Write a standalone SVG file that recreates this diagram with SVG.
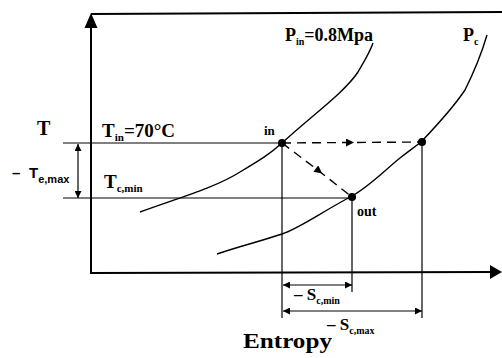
<svg xmlns="http://www.w3.org/2000/svg" width="502" height="358" viewBox="0 0 502 358">
<style>
.ax{stroke:#000;stroke-width:2;fill:none}
.ln{stroke:#000;stroke-width:1.2;fill:none}
.cv{stroke:#000;stroke-width:1.4;fill:none}
.ds{stroke:#000;stroke-width:1.4;fill:none;stroke-dasharray:9,6}
</style>
<defs>
<marker id="ah" viewBox="0 0 10 10" refX="10" refY="5" markerWidth="8" markerHeight="7" markerUnits="userSpaceOnUse" orient="auto-start-reverse"><path d="M0,0L10,5L0,10z" fill="#000"/></marker>
<marker id="mid" viewBox="0 0 10 10" refX="5" refY="5" markerWidth="9" markerHeight="8" markerUnits="userSpaceOnUse" orient="auto"><path d="M0,0L10,5L0,10z" fill="#000"/></marker>
</defs>
<g id="axes">
<line class="ax" x1="91" y1="14" x2="502" y2="12"/>
<line class="ax" x1="91" y1="24" x2="91" y2="273"/>
<path d="M91,13L84.5,28L97.5,28z" fill="#000" stroke="none"/>
<line class="ax" x1="90" y1="273" x2="491" y2="272"/>
<path d="M502,272L490,265L490,279z" fill="#000"/>
</g>
<g id="curves">
<path class="cv" d="M140,212 C175,199 215,188 240,172 C260,160 270,154 282,143 C310,117 345,92 358,72 C365,60 370,52 373,43"/>
<path class="cv" d="M217,254 C240,246 265,240 282,234 C300,228 320,213 352,196 C370,186 385,170 400,158 C410,150 415,147 422,141 C440,122 455,105 465,90 C475,70 482,52 487,35"/>
</g>
<g id="connectors">
<line class="ln" x1="63" y1="143" x2="282" y2="143"/>
<line class="ln" x1="63" y1="198" x2="352" y2="198"/>
<line class="ln" x1="282" y1="143" x2="282" y2="318"/>
<line class="ln" x1="352" y1="197" x2="352" y2="292"/>
<line class="ln" x1="422" y1="142" x2="422" y2="318"/>
<line class="ln" x1="78" y1="144" x2="78" y2="198" marker-start="url(#ah)" marker-end="url(#ah)"/>
<line class="ln" x1="283" y1="285" x2="352" y2="285" marker-start="url(#ah)" marker-end="url(#ah)"/>
<line class="ln" x1="283" y1="311" x2="422" y2="311" marker-start="url(#ah)" marker-end="url(#ah)"/>
<polyline class="ds" points="282,143 350,142.5 422,142" marker-mid="url(#mid)"/>
<polyline class="ds" points="282,143 319,171 352,197" marker-mid="url(#mid)"/>
</g>
<g font-family="'Liberation Serif', 'Times New Roman', serif" font-weight="bold" fill="#000">
<g id="in"><circle cx="282" cy="143" r="4"/><text x="264" y="135" font-size="13">in</text></g>
<g id="out"><circle cx="352" cy="197" r="4"/><text x="357" y="216" font-size="14">out</text></g>
<g id="pc-point"><circle cx="422" cy="142" r="4"/></g>
<g id="labels">
<text x="37" y="135" font-size="20">T</text>
<text x="102" y="137" font-size="19">T<tspan font-size="11" dy="4">in</tspan><tspan dy="-4">=70°C</tspan></text>
<text x="104" y="188" font-size="19">T<tspan font-size="11" dy="4">c,min</tspan></text>
<text font-family="'Liberation Sans', Arial, sans-serif" y="178" font-size="15"><tspan x="12">–</tspan><tspan x="29">T</tspan><tspan font-size="11" dy="5">e,max</tspan></text>
<text x="285" y="41" font-size="18">P<tspan font-size="10" dy="4">in</tspan><tspan dy="-4">=0.8Mpa</tspan></text>
<text x="463" y="41" font-size="18">P<tspan font-size="10" dy="4">c</tspan></text>
<text x="294" y="300" font-size="17">– S<tspan font-size="10" dy="4">c,min</tspan></text>
<text x="327" y="330" font-size="17">– S<tspan font-size="10" dy="4">c,max</tspan></text>
<text x="243" y="348" font-size="20" textLength="89" lengthAdjust="spacingAndGlyphs">Entropy</text>
</g>
</g>
</svg>
